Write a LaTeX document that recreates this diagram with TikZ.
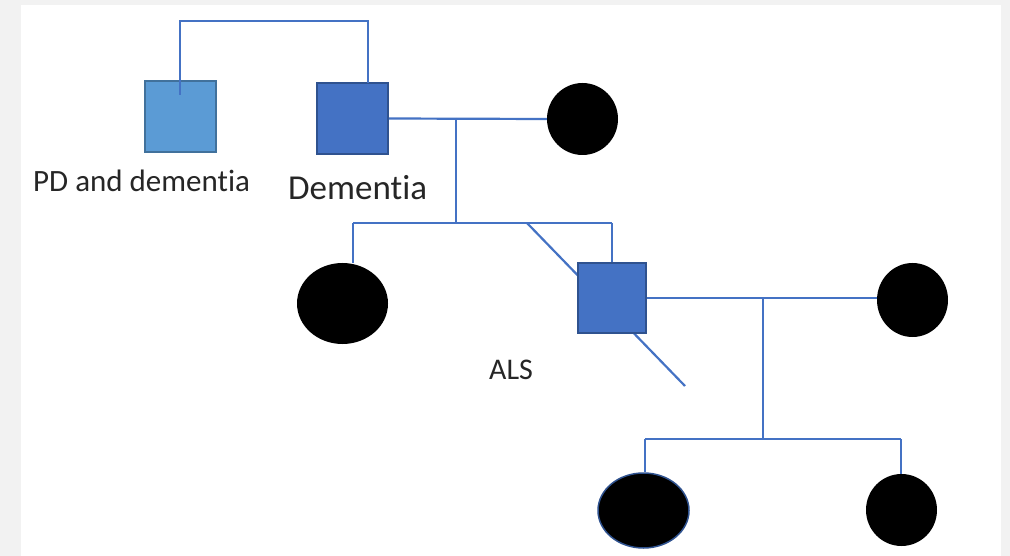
\documentclass[tikz,border=0pt]{standalone}
\usepackage{fontspec}
\setmainfont{Carlito}[Ligatures=NoCommon]
\usetikzlibrary{shapes.geometric}
\definecolor{frame}{HTML}{F2F2F2}
\definecolor{lightblue}{HTML}{5B9BD5}
\definecolor{lightedge}{HTML}{41719C}
\definecolor{midblue}{HTML}{4472C4}
\definecolor{darkedge}{HTML}{2F528F}
\tikzset{
  male/.style={rectangle, minimum width=71pt, minimum height=71pt, inner sep=0pt,
    fill=midblue, draw=darkedge, line width=1.5pt},
  female/.style={ellipse, minimum width=71pt, minimum height=72pt, inner sep=0pt, fill=black},
  link/.style={draw=midblue, line width=2.2pt},
  tag/.style={anchor=base west, inner sep=0pt, text=black!85}
}
\begin{document}
\begin{tikzpicture}[x=1pt, y=-1pt]
% page frame
\fill[frame] (0,0) rectangle (1010,556);
\fill[white] (21,5) rectangle (1001,556);
\useasboundingbox (0,0) rectangle (1010,556);

% generation I
\node[male, fill=lightblue, draw=lightedge] (sqA) at (180.5,116.5) {};
\node[male] (sqB) at (352.5,118.5) {};
\node[female] (fA) at (582.5,119) {};

% generation II
\node[female, minimum width=91pt, minimum height=81pt] (fB) at (342.5,303.5) {};
\coordinate (slash1) at (527,223);
\coordinate (slash2) at (685,386);
\draw[link] (slash1) -- (slash2);
\node[male, minimum width=68pt, minimum height=70pt] (sqC) at (612,298) {};
\node[female, minimum height=74pt] (fC) at (912.5,300) {};

% generation III
\node[female, minimum width=91pt, minimum height=75pt, draw=darkedge, line width=1.5pt] (fD) at (643.5,510.5) {};
\node[female] (fE) at (901.5,510) {};

% sibling bracket above the first couple
\coordinate (topA) at (180,95);
\coordinate (topB) at (368,83);
\draw[link] (topA) |- (368,21) -- (topB);

% first couple and their children
\draw[link] (sqB.east) -- (fA.west);
\coordinate (m1) at (456,118);
\coordinate (s1) at (456,223);
\coordinate (s1l) at (353,223);
\coordinate (s1r) at (612,223);
\draw[link] (m1) -- (s1);
\draw[link] (s1l) -- (s1r);
\draw[link] (s1l) -- (fB.north -| s1l);
\draw[link] (s1r) -- (sqC.north);

% second couple and their children
\draw[link] (sqC.east) -- (fC.west |- sqC.east);
\coordinate (m2) at (763,299);
\coordinate (s2) at (763,439);
\coordinate (s2l) at (645,439);
\coordinate (s2r) at (901,439);
\draw[link] (m2) -- (s2);
\draw[link] (s2l) -- (s2r);
\draw[link] (s2l) -- (fD.north -| s2l);
\draw[link] (s2r) -- (fE.north -| s2r);

% labels
\node[tag, font=\fontsize{31}{31}\selectfont] (lA) at (33,192) {PD and dementia};
\node[tag, font=\fontsize{35}{35}\selectfont] (lB) at (288,200) {Dementia};
\node[tag, font=\fontsize{30}{30}\selectfont] (lC) at (489,379) {ALS};
\end{tikzpicture}
\end{document}
